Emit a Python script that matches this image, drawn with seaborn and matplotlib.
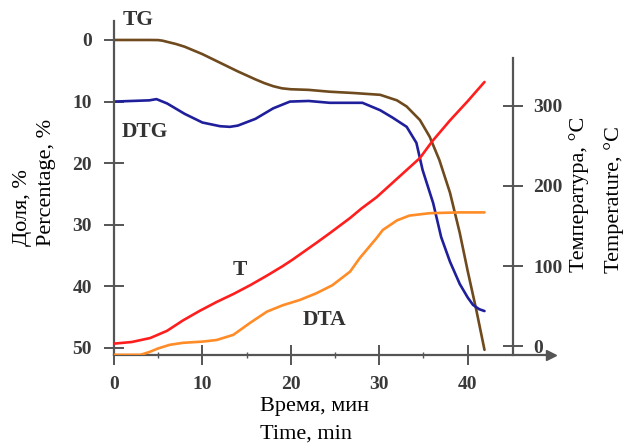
import matplotlib
matplotlib.use('Agg')
import matplotlib.pyplot as plt
import seaborn as sns

# ---- data ----
tg_time = [0, 2, 4, 5, 5.5, 6, 7, 8, 10, 12, 14, 16, 17, 18, 19, 20, 22, 24.4, 27, 30.1, 32, 33.1, 34.6, 35.7, 36.8, 38, 39.1, 40, 41, 41.9]
tg_pct = [0, 0, 0, 0.02, 0.12, 0.3, 0.65, 1.1, 2.3, 3.7, 5.1, 6.4, 7.0, 7.5, 7.85, 8.0, 8.1, 8.4, 8.6, 8.9, 9.8, 10.8, 13.0, 15.7, 19.5, 24.8, 31.3, 37.5, 44.0, 50.3]

dtg_time = [0, 2, 4, 4.8, 6, 8, 10, 12, 13.1, 14, 16, 18, 19.9, 22, 24.4, 26, 28.1, 30.1, 31.5, 33.1, 34.2, 34.9, 36.1, 37.0, 38.0, 39.1, 40, 40.6, 41.3, 41.9]
dtg_pct = [10, 9.9, 9.8, 9.6, 10.3, 12.0, 13.4, 14.0, 14.1, 13.9, 12.8, 11.1, 10.0, 9.9, 10.2, 10.2, 10.2, 11.4, 12.6, 14.1, 16.7, 21.1, 26.5, 32.0, 36.0, 39.6, 41.8, 43.0, 43.7, 44.0]

t_time = [0, 2, 4.1, 6, 7.8, 9.7, 11.6, 13.5, 15.4, 17.3, 19.1, 20.2, 22.9, 24.4, 26.7, 28, 29.7, 32, 34.6, 36, 38, 40, 41.9]
t_temp = [3, 5, 10, 19, 32, 44, 55, 65, 76, 88, 100, 108, 129, 141, 160, 172, 186, 209, 235, 256, 282, 306, 330]

dta_time = [0, 3, 4.0, 5, 6.3, 7.8, 10, 11.6, 13.5, 15.4, 17.3, 19.1, 21, 22.9, 24.7, 26.7, 27.8, 29.7, 30.4, 32, 33.4, 35.7, 39, 41.9]
dta_temp = [-11, -11, -7.5, -3, 1.5, 4, 5.5, 7.5, 14, 29, 43, 51, 57.5, 66, 76, 93, 110, 135, 145, 157, 163, 166, 167, 167]

x_ticks = [0, 10, 20, 30, 40]
x_minor = [5, 15, 25, 35]
pct_ticks = [0, 10, 20, 30, 40, 50]
temp_ticks = [0, 100, 200, 300]

# ---- style ----
sns.set_style('ticks')
plt.rcParams['font.family'] = ['Liberation Serif', 'DejaVu Serif']

C_TG = '#6e4a1e'
C_DTG = '#1f1f9c'
C_T = '#ff1e1e'
C_DTA = '#ff8c26'
C_AX = '#555555'

fig = plt.figure(figsize=(6.24, 4.45), dpi=100)
ax = fig.add_axes([0.1827, 0.2022, 0.700, 0.7495])
ax2 = ax.twinx()

sns.lineplot(x=tg_time, y=tg_pct, ax=ax, color=C_TG, lw=1.9, sort=False)
sns.lineplot(x=dtg_time, y=dtg_pct, ax=ax, color=C_DTG, lw=1.9, sort=False)
sns.lineplot(x=t_time, y=t_temp, ax=ax2, color=C_T, lw=1.9, sort=False)
sns.lineplot(x=dta_time, y=dta_temp, ax=ax2, color=C_DTA, lw=1.9, sort=False)

ax.set_xlim(0, 49.4)
ax.set_ylim(51.14, -3)
ax2.set_ylim(-11.25, 405.6)
for a in (ax, ax2):
    a.set_xlabel('')
    a.set_ylabel('')
    a.grid(False)

# spines
for s in ('top', 'right'):
    ax.spines[s].set_visible(False)
for s in ('top', 'left', 'bottom'):
    ax2.spines[s].set_visible(False)
for s in ('left', 'bottom'):
    ax.spines[s].set_color(C_AX)
    ax.spines[s].set_linewidth(1.6)
ax2.spines['right'].set_color(C_AX)
ax2.spines['right'].set_linewidth(1.6)
ax2.spines['right'].set_position(('data', 45.1))
ax2.spines['right'].set_bounds(-11.25, 360)

# arrow at end of x axis
ax.plot(1, 0, marker='>', ms=7, color=C_AX, transform=ax.transAxes, clip_on=False)

# ticks
tick_font = dict(fontsize=14, fontweight='bold', color='#3a3a3a')
ax.set_xticks(x_ticks)
ax.set_xticks(x_minor, minor=True)
ax.set_yticks(pct_ticks)
ax2.set_yticks(temp_ticks)
ax.set_xticklabels([str(v) for v in x_ticks], **tick_font)
ax.set_yticklabels([str(v) for v in pct_ticks], **tick_font)
ax2.set_yticklabels([str(v) for v in temp_ticks], **tick_font)
ax.tick_params(axis='x', which='major', direction='inout', length=14, width=1.4, color=C_AX, pad=8)
ax.tick_params(axis='x', which='minor', direction='inout', length=4, width=1.0, color=C_AX)
ax.tick_params(axis='y', which='major', direction='inout', length=14, width=1.4, color=C_AX, pad=9)
ax2.tick_params(axis='y', which='major', direction='inout', length=14, width=1.4, color=C_AX, pad=8)

# curve labels
lab_font = dict(fontsize=15.5, fontweight='bold', color='#333333', ha='center', va='center')
ax.text(2.7, -3.3, 'TG', clip_on=False, **lab_font)
ax.text(3.5, 14.9, 'DTG', **lab_font)
ax.text(14.2, 37.3, 'T', **lab_font)
ax.text(23.8, 45.4, 'DTA', **lab_font)

# axis titles
W, H = 624, 445
def fx(px):
    return px / W
def fy(py):
    return 1 - py / H
tf = dict(fontsize=16, color='black')
fig.text(fx(22), fy(246), 'Доля, %', rotation=90, ha='center', va='bottom', **tf)
fig.text(fx(46), fy(246), 'Percentage, %', rotation=90, ha='center', va='bottom', **tf)
fig.text(fx(579), fy(272), 'Температура, °C', rotation=90, ha='center', va='bottom', **tf)
fig.text(fx(614), fy(273), 'Temperature, °C', rotation=90, ha='center', va='bottom', **tf)
fig.text(fx(260), fy(407), 'Время, мин', ha='left', va='center', **tf)
fig.text(fx(260), fy(434), 'Time, min', ha='left', va='center', **tf)

fig.savefig('out.png', dpi=100)
